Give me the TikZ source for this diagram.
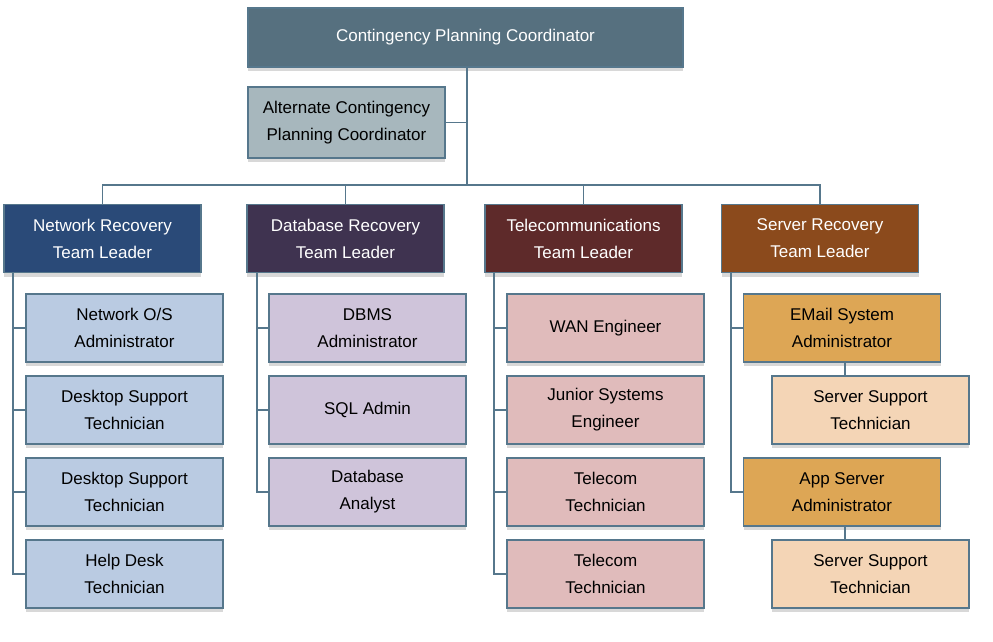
\documentclass[tikz,border=0pt]{standalone}
\usepackage{fontspec}
\setmainfont{Liberation Sans}
\definecolor{edge}{HTML}{56778C}
\definecolor{cTop}{HTML}{56707F}
\definecolor{cAlt}{HTML}{A7B7BD}
\definecolor{cNet}{HTML}{2A4A78}
\definecolor{cDb}{HTML}{3F3350}
\definecolor{cTel}{HTML}{5E2A2A}
\definecolor{cSrv}{HTML}{8B4A1C}
\definecolor{lNet}{HTML}{BACBE2}
\definecolor{lDb}{HTML}{CFC4DA}
\definecolor{lTel}{HTML}{E0BBBB}
\definecolor{lMail}{HTML}{DDA655}
\definecolor{lSst}{HTML}{F4D5B6}
\tikzset{
 box/.style={draw=edge,line width=1.5pt,minimum width=197pt,minimum height=68pt,align=center,inner sep=1pt,font=\fontsize{17}{27}\selectfont,
   drop shadow={shadow xshift=0pt,shadow yshift=-4pt,fill=black!25,opacity=0.6}},
 dark/.style={box,text=white},
 ln/.style={draw=edge,line width=1.5pt}
}
\usetikzlibrary{shadows}
\begin{document}
\begin{tikzpicture}[x=1pt,y=-1pt]
\useasboundingbox[fill=white] (0,0) rectangle (993,642);
\node[dark,fill=cTop,minimum width=435pt,minimum height=59pt] (top) at (465.5,37.5) {Contingency Planning Coordinator};
\node[box,fill=cAlt,minimum height=71pt] (alt) at (346.5,122.5) {Alternate Contingency\\Planning Coordinator};
\node[dark,fill=cNet] (net) at (102.5,238.5) {Network Recovery\\Team Leader};
\node[dark,fill=cDb] (db) at (345.5,238.5) {Database Recovery\\Team Leader};
\node[dark,fill=cTel] (tel) at (583.5,238.5) {Telecommunications\\Team Leader};
\node[dark,fill=cSrv] (srv) at (820,238.5) {Server Recovery\\Team Leader};
\coordinate (bus) at (467,185);
\coordinate (aj) at (467,122.5);
\draw[ln] (top.south -| bus) -- (bus);
\draw[ln] (alt.east) -- (aj);
\draw[ln] (net.north) |- (bus) -| (srv.north);
\draw[ln] (db.north) -- (db.north |- bus);
\draw[ln] (tel.north) -- (tel.north |- bus);
% network
\node[box,fill=lNet] (n1) at (124.5,328) {Network O/S\\Administrator};
\node[box,fill=lNet] (n2) at (124.5,410) {Desktop Support\\Technician};
\node[box,fill=lNet] (n3) at (124.5,492) {Desktop Support\\Technician};
\node[box,fill=lNet] (n4) at (124.5,574) {Help Desk\\Technician};
\coordinate (ns) at (13,272);
\draw[ln] (ns) |- (n4.west);
\foreach \c in {n1,n2,n3} \draw[ln] (ns |- \c.west) -- (\c.west);
% db
\node[box,fill=lDb] (d1) at (367.5,328) {DBMS\\Administrator};
\node[box,fill=lDb] (d2) at (367.5,410) {SQL Admin};
\node[box,fill=lDb] (d3) at (367.5,492) {Database\\Analyst};
\coordinate (ds) at (257,272);
\draw[ln] (ds) |- (d3.west);
\foreach \c in {d1,d2} \draw[ln] (ds |- \c.west) -- (\c.west);
% tel
\node[box,fill=lTel] (t1) at (605.5,328) {WAN Engineer};
\node[box,fill=lTel] (t2) at (605.5,410) {Junior Systems\\Engineer};
\node[box,fill=lTel] (t3) at (605.5,492) {Telecom\\Technician};
\node[box,fill=lTel] (t4) at (605.5,574) {Telecom\\Technician};
\coordinate (ts) at (494,272);
\draw[ln] (ts) |- (t4.west);
\foreach \c in {t1,t2,t3} \draw[ln] (ts |- \c.west) -- (\c.west);
% server
\node[box,fill=lMail] (s1) at (842,328) {EMail System\\Administrator};
\node[box,fill=lSst] (s2) at (870.5,410) {Server Support\\Technician};
\node[box,fill=lMail] (s3) at (842,492) {App Server\\Administrator};
\node[box,fill=lSst] (s4) at (870.5,574) {Server Support\\Technician};
\coordinate (ss) at (731,272);
\draw[ln] (ss) |- (s3.west);
\draw[ln] (ss |- s1.west) -- (s1.west);
\draw[ln] (s1.south -| 845,0) -- (s2.north -| 845,0);
\draw[ln] (s3.south -| 845,0) -- (s4.north -| 845,0);
\end{tikzpicture}
\end{document}
